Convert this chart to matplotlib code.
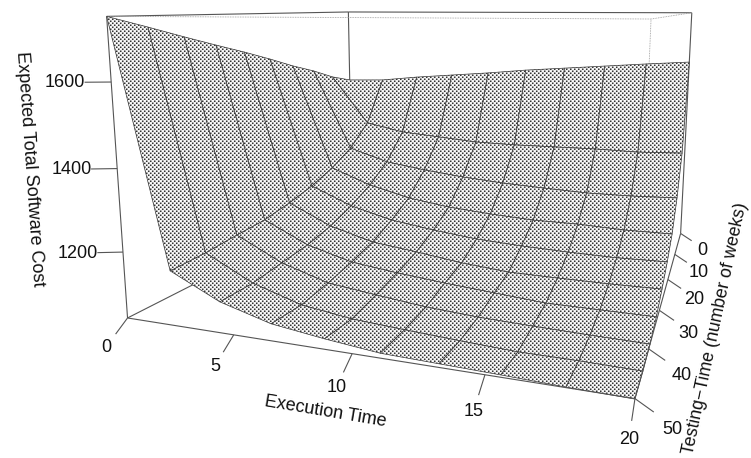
import numpy as np
import matplotlib
matplotlib.use('Agg')
import matplotlib.hatch as hatch_mod
import matplotlib.pyplot as plt
from matplotlib.path import Path
from mpl_toolkits.mplot3d import art3d

# ---- data ----
execution_time = [20 * i / 9 for i in range(10)]
testing_time = [50 * j / 9 for j in range(10)]
# rows: execution time, columns: testing time
cost = [
    [1502, 1524, 1555, 1581, 1611, 1639, 1665, 1692, 1720, 1747],
    [1506, 1368, 1301, 1259, 1228, 1206, 1189, 1182, 1173, 1169],
    [1520, 1343, 1263, 1213, 1177, 1149, 1131, 1121, 1111, 1111],
    [1531, 1333, 1245, 1182, 1145, 1115, 1097, 1083, 1073, 1077],
    [1542, 1323, 1231, 1164, 1127, 1100, 1082, 1068, 1056, 1061],
    [1555, 1321, 1221, 1154, 1113, 1083, 1070, 1054, 1048, 1048],
    [1565, 1322, 1215, 1147, 1106, 1072, 1060, 1046, 1041, 1045],
    [1575, 1323, 1210, 1147, 1102, 1071, 1050, 1042, 1035, 1042],
    [1585, 1321, 1211, 1142, 1100, 1071, 1050, 1039, 1035, 1038],
    [1594, 1326, 1216, 1143, 1103, 1073, 1050, 1037, 1033, 1036],
]
x_ticks = [0, 5, 10, 15, 20]
t_ticks = [0, 10, 20, 30, 40, 50]
z_ticks = [1200, 1400, 1600]
x_lim = (0.0, 20.0)
t_lim = (0.0, 50.0)
z_lim = (1037.0, 1747.0)

# camera: (x, t, z, 1) -> homogeneous image position, image y downward
CAMERA = np.array([
    [11.32547, -5.1295188, -0.023267811, 357.28729],
    [-0.043114826, -0.032947051, -0.25627398, 458.59176],
    [-0.0061889919, -0.0068960029, -5.2352077e-05, 1.00036646],
])

W, H = 751, 458


class CheckerDots(hatch_mod.HatchPatternBase):
    """'.' hatch as a 45-degree lattice of small square dots (4 px period at dpi 100)."""
    COLS = 25
    ROWS = 50
    SIZE = 0.0145

    def __init__(self, hatch, density):
        self.on = hatch.count('.') > 0
        self.num_vertices = self.COLS * self.ROWS * 5 if self.on else 0

    def set_vertices_and_codes(self, vertices, codes):
        shape = np.array([[0, 0], [1, 0], [1, 1], [0, 1], [0, 0]]) * self.SIZE
        k = 0
        for r in range(self.ROWS):
            for c in range(self.COLS):
                origin = np.array([(c + 0.5 * (r % 2)) / self.COLS, r / self.ROWS])
                vertices[k:k + 5] = shape + origin
                codes[k:k + 5] = [Path.MOVETO, Path.LINETO, Path.LINETO,
                                  Path.LINETO, Path.CLOSEPOLY]
                k += 5


hatch_mod._hatch_types = [CheckerDots if h is hatch_mod.SmallFilledCircles else h
                          for h in hatch_mod._hatch_types]

plt.rcParams['font.family'] = ['Liberation Sans', 'DejaVu Sans']
plt.rcParams['hatch.linewidth'] = 0.1
plt.rcParams['hatch.color'] = '#111111'

fig = plt.figure(figsize=(W / 100, H / 100), dpi=100, facecolor='white')
ax = fig.add_axes([0, -(W - H) / 2 / H, 1, W / H], projection='3d',
                  computed_zorder=False)
ax.set_axis_off()
ax.patch.set_visible(False)
ax.set_xlim(*x_lim); ax.set_ylim(*t_lim); ax.set_zlim(*z_lim)
ax.apply_aspect()

# hand the camera to the 3D axes
A = ax.transData.get_affine().get_matrix()
flip = np.array([[1, 0, 0], [0, -1, H], [0, 0, 1.0]])
Q = np.linalg.inv(A) @ flip @ CAMERA
M = np.vstack([Q[0], Q[1], Q[2] + np.array([0, 0, 0, -0.5]), Q[2]])
ax.get_proj = lambda: M


def to_fig(x, t, z):
    h = CAMERA @ np.array([x, t, z, 1.0])
    return h[0] / h[2] / W, 1 - h[1] / h[2] / H


LINE = '#555555'
def edge(p, q, zorder, color=LINE, lw=0.8, linestyle='-'):
    seg = art3d.Line3DCollection([[p, q]], colors=color, linewidths=lw,
                                 linestyles=linestyle, zorder=zorder)
    ax.add_collection3d(seg, autolim=False)


x0, x1 = x_lim; t0, t1 = t_lim; z0, z1 = z_lim
# edges behind the surface
edge((x0, t0, z0), (x0, t1, z0), 1)
edge((x0, t0, z0), (x0, t0, z1), 1)
edge((x0, t0, z1), (x0, t1, z1), 1)
edge((x0, t0, z1), (x1, t0, z1), 1)
edge((x1, t0, z0), (x1, t0, z1), 1)
edge((x0, t1, z0), (x0, t1, z1), 1)
DOT = dict(color='#999999', lw=0.6, linestyle=(0, (1, 1)))
edge((x0, t1, z1), (x1, t1, z1), 1, **DOT)
edge((x1, t0, z1), (x1, t1, z1), 1, **DOT)
edge((x1, t1, z0), (x1, t1, z1), 1, **DOT)

XX, TT = np.meshgrid(execution_time, testing_time, indexing='ij')
ax.plot_surface(XX, TT, np.array(cost, dtype=float), rstride=1, cstride=1,
                color='white', edgecolor='#333333', linewidth=0.5,
                hatch='.', shade=False, antialiased=True, zorder=2)

# edges in front of the surface
edge((x0, t1, z0), (x1, t1, z0), 3)
edge((x1, t0, z0), (x1, t1, z0), 3)

TXT = dict(ha='center', va='center', fontsize=13, color='#111111')
for v in x_ticks:
    edge((v, t1, z0), (v, t1 + 1.75, z0 - 24), 3)
    fx, fy = to_fig(v, t1 + 3.1, z0 - 43)
    fig.text(fx, fy, str(v), **TXT)
for v in t_ticks:
    edge((x1, v, z0), (x1 + 0.6, v, z0 - 21), 3)
    fx, fy = to_fig(x1 + 1.2, v, z0 - 49)
    fig.text(fx, fy, str(v), **TXT)
for v in z_ticks:
    edge((x0, t1, v), (x0 - 0.9, t1 + 1, v), 3)
    fx, fy = to_fig(x0 - 1.55, t1 + 1.8, v)
    fig.text(fx, fy, str(v), **TXT)

LAB = dict(ha='center', va='center', fontsize=13, color='#111111',
           rotation_mode='anchor')
fig.text(325 / W, 1 - 412 / H, 'Execution Time', rotation=-9.5, **LAB)
fig.text(30 / W, 1 - 169 / H, 'Expected Total Software Cost', rotation=-86, **LAB)
fig.text(715 / W, 1 - 328 / H, 'Testing\u2212Time (number of weeks)', rotation=78,
         ha='center', va='center', fontsize=12.8, color='#111111', rotation_mode='anchor')

fig.savefig('out.png', dpi=100)
